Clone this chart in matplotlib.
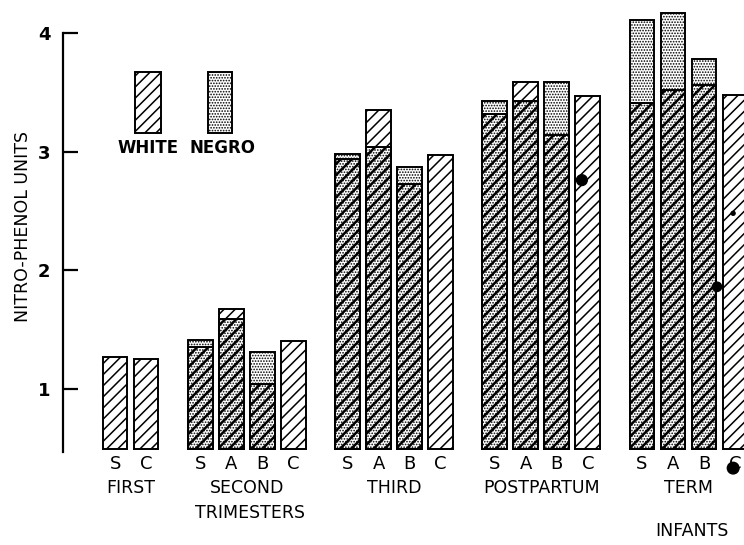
import numpy as np
import matplotlib
matplotlib.use("Agg")
import matplotlib.pyplot as plt
from matplotlib.patches import Rectangle

# data (nitro-phenol units)
groups = ["FIRST", "SECOND", "THIRD", "POSTPARTUM", "TERM"]
group_sub = ["", "TRIMESTERS", "", "", "INFANTS"]
letters = [["S", "C"],
           ["S", "A", "B", "C"],
           ["S", "A", "B", "C"],
           ["S", "A", "B", "C"],
           ["S", "A", "B", "C"]]
white = [[1.27, 1.25],
         [1.35, 1.675, 1.04, 1.40],
         [2.94, 3.35, 2.73, 2.97],
         [3.32, 3.59, 3.14, 3.47],
         [3.41, 3.52, 3.56, 3.48]]
negro = [[np.nan, np.nan],
         [1.41, 1.59, 1.31, np.nan],
         [2.98, 3.04, 2.87, np.nan],
         [3.43, 3.43, 3.59, np.nan],
         [4.11, 4.17, 3.78, np.nan]]
# stray dots in the scan (bar slot, value)
spots_x = [15.06, 19.42, 19.94, 19.94]
spots_y = [2.76, 1.86, 2.48, 0.33]
spots_s = [60, 45, 8, 70]

base = 0.49
gap = 1.75
width = 0.8

plt.rcParams['font.family'] = 'DejaVu Sans'
fig = plt.figure(figsize=(7.44, 5.45), dpi=100)
ax = fig.add_axes([63 / 744, 93 / 545, 1 - 63 / 744, 452 / 545])
ax.set_xlim(-1.68, 20.29)
ax.set_ylim(0.466, 4.28)

def draw_bar(x, lo, hi, kind):
    if kind == "white":
        with plt.rc_context({'hatch.linewidth': 1.1}):
            ax.bar(x, hi - lo, bottom=lo, width=width, color="white",
                   edgecolor="black", linewidth=1.4, hatch="///")
    elif kind == "negro":
        with plt.rc_context({'hatch.linewidth': 0.8}):
            ax.bar(x, hi - lo, bottom=lo, width=width, color="white",
                   edgecolor="black", linewidth=1.4, hatch="......")
    else:
        with plt.rc_context({'hatch.linewidth': 0.8}):
            ax.bar(x, hi - lo, bottom=lo, width=width, color="white",
                   edgecolor="black", linewidth=1.4, hatch="......")
        with plt.rc_context({'hatch.linewidth': 1.8}):
            ax.bar(x, hi - lo, bottom=lo, width=width, fill=False,
                   edgecolor="black", linewidth=1.4, hatch="///")

start = 0.0
for g in range(len(groups)):
    xs = start + np.arange(len(letters[g]))
    for x, w, n, let in zip(xs, white[g], negro[g], letters[g]):
        if np.isnan(n):
            draw_bar(x, base, w, "white")
        else:
            lo, hi = min(w, n), max(w, n)
            draw_bar(x, base, lo, "both")
            draw_bar(x, lo, hi, "white" if w > n else "negro")
        ax.text(x, 0.367, let, ha="center", va="center", fontsize=13,
                clip_on=False)
    mid = xs.mean()
    ax.text(mid, 0.165, groups[g], ha="center", va="center", fontsize=12.5,
            clip_on=False)
    if group_sub[g]:
        ax.text(mid + 0.1, -0.046 if g == 1 else -0.198, group_sub[g],
                ha="center", va="center", fontsize=12.5, clip_on=False)
    start = xs[-1] + gap

ax.scatter(spots_x, spots_y, s=spots_s, color="black", zorder=5, clip_on=False)

# legend boxes drawn in the plot area
with plt.rc_context({'hatch.linewidth': 1.1}):
    ax.add_patch(Rectangle((0.645, 3.16), 0.835, 0.51, facecolor="white",
                           edgecolor="black", linewidth=1.4, hatch="///"))
with plt.rc_context({'hatch.linewidth': 0.8}):
    ax.add_patch(Rectangle((3.0, 3.16), 0.77, 0.51, facecolor="white",
                           edgecolor="black", linewidth=1.4, hatch="......"))
ax.text(1.06, 3.03, "WHITE", ha="center", va="center", fontsize=12,
        fontweight="bold")
ax.text(3.45, 3.03, "NEGRO", ha="center", va="center", fontsize=12,
        fontweight="bold")

for s in ["top", "right", "bottom"]:
    ax.spines[s].set_visible(False)
ax.spines["left"].set_linewidth(1.6)
ax.spines["left"].set_bounds(0.466, 4.0)
ax.set_xticks([])
ax.set_yticks([1, 2, 3, 4])
ax.set_yticklabels(["1", "2", "3", "4"], fontsize=13, fontweight="bold")
ax.tick_params(axis="y", direction="in", length=11, width=1.6, pad=9)
ax.set_ylabel("NITRO-PHENOL UNITS", fontsize=12.5, labelpad=4)

fig.savefig("out.png", dpi=100)
